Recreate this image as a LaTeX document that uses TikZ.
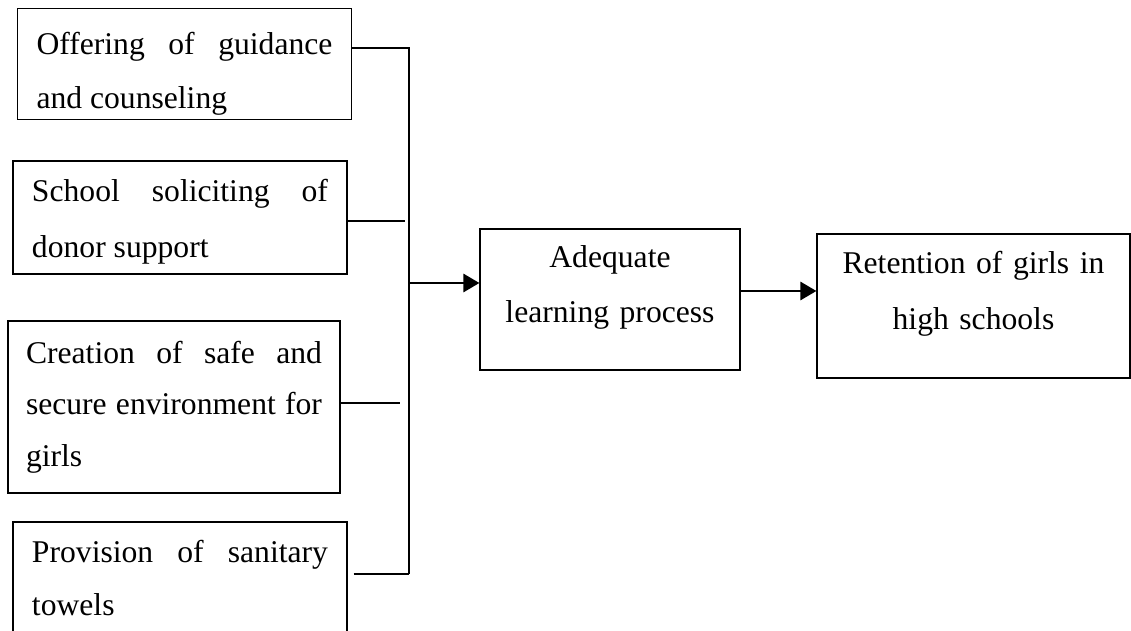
\documentclass[tikz,border=0pt]{standalone}
\usepackage{fontspec}
\setmainfont{Liberation Serif}
\usetikzlibrary{arrows.meta, positioning}

\begin{document}
\begin{tikzpicture}[
	FactorBox/.style={rectangle, draw, line width=0.8pt, text width=7.4cm,
		inner xsep=0.475cm, align=justify, font=\fontsize{22.5}{38}\selectfont},
	OutBox/.style={rectangle, draw, line width=0.8pt, inner xsep=0.3cm,
		align=center, font=\fontsize{22.5}{39.5}\selectfont},
	Link/.style={line width=0.8pt},
	Flow/.style={line width=2pt, -{Triangle[length=0.4cm, width=0.45cm]}}
	]

\useasboundingbox (0,0) rectangle (28.275,-15.775);

% factors on the left
\node [FactorBox, minimum height=2.75cm] (guidance) at (4.6125,-1.6)
	{\rule{0pt}{29.7pt}Offering of guidance \linebreak and counseling};
\node [FactorBox, minimum height=2.825cm, font=\fontsize{22.5}{39.8}\selectfont] (donor) at (4.5,-5.4375)
	{\rule{0pt}{21.2pt}School soliciting of \linebreak donor support};
\node [FactorBox, minimum height=4.3cm, inner xsep=0.45cm, font=\fontsize{22.5}{36.5}\selectfont] (safety) at (4.35,-10.175)
	{Creation of safe and \linebreak secure environment for girls};
\node [FactorBox, minimum height=2.8cm] (towels) at (4.5,-14.45)
	{Provision of sanitary \linebreak towels};

% process and outcome
\node [OutBox, text width=5.9cm, minimum height=3.525cm] (learning) at (15.25,-7.4875)
	{Adequate\\learning process\rule[-22pt]{0pt}{22pt}};
\node [OutBox, text width=7.225cm, minimum height=3.6cm] (retention) at (24.3375,-7.65)
	{Retention of girls in\\high schools\rule[-22pt]{0pt}{22pt}};

% bus
\coordinate (bustop) at (10.225,-1.2);
\coordinate (busbot) at (10.225,-14.35);
\coordinate (busout) at (10.2,-7.075);
\coordinate (j2) at (10.125,-5.525);
\coordinate (j3) at (10.0,-10.075);

\draw [Link] (guidance.east |- bustop) -- (bustop) -- (busbot);
\draw [Link] (donor.east |- j2) -- (j2);
\draw [Link] (safety.east |- j3) -- (j3);
\draw [Link] ([xshift=0.15cm]towels.east |- busbot) -- (busbot);

\draw [Flow] (busout) -- (learning.west |- busout);
\draw [Flow] ([yshift=0.2125cm]learning.east) -- ([yshift=0.2125cm]learning.east -| retention.west);

\end{tikzpicture}
\end{document}
